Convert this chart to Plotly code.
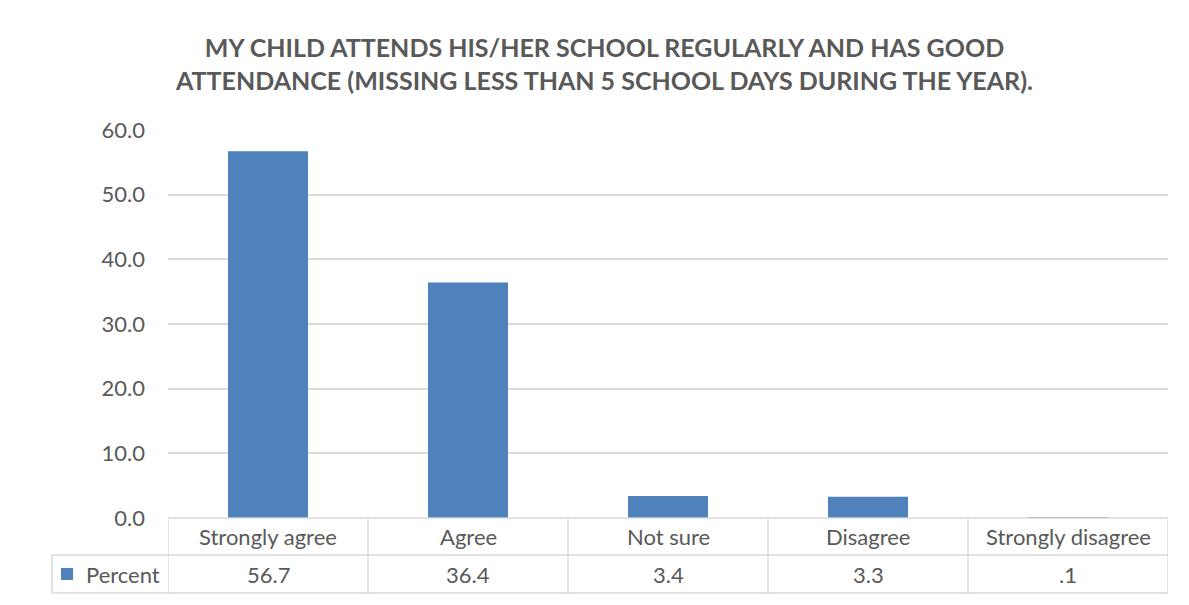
import plotly.graph_objects as go

categories = ["Strongly agree", "Agree", "Not sure", "Disagree", "Strongly disagree"]
values = [56.7, 36.4, 3.4, 3.3, 0.1]
series_name = "Percent"
tick_vals = [0, 10, 20, 30, 40, 50, 60]
title_lines = ["MY CHILD ATTENDS HIS/HER SCHOOL REGULARLY AND HAS GOOD",
               "ATTENDANCE (MISSING LESS THAN 5 SCHOOL DAYS DURING THE YEAR)."]

W, H = 1189, 605
OFF = 8  # page offset of the plot inside the browser window
PW, PH = 1000, 388
L, T = 168 - OFF, 130 - OFF
R, B = W - L - PW, H - T - PH

TEXT = "#595959"
GRID = "#d9d9d9"
BAR = "#4f81bd"
FONT = "Lato"


def px_x(p):
    return (p - OFF - L) / PW


def px_y(p):
    return (T + PH - (p - OFF)) / PH


def fmt(v):
    s = f"{v:.1f}"
    return s[1:] if s.startswith("0.") else s


fig = go.Figure(go.Bar(x=list(range(len(categories))), y=values, name=series_name,
                       marker=dict(color=BAR, line=dict(width=0)), width=0.4,
                       hoverinfo="skip"))

shapes = []
line = dict(color=GRID, width=1.5)
n = len(categories)
row1, row2, row3 = px_y(518), px_y(555), px_y(593)
shapes.append(dict(type="line", xref="x", yref="paper", x0=-0.5, x1=n - 0.5, y0=row1, y1=row1, line=line))
for yy in (row2, row3):
    shapes.append(dict(type="line", xref="paper", yref="paper", x0=px_x(52), x1=1, y0=yy, y1=yy, line=line))
for i in range(n + 1):
    shapes.append(dict(type="line", xref="x", yref="paper", x0=i - 0.5, x1=i - 0.5, y0=row1, y1=row3, line=line))
shapes.append(dict(type="line", xref="paper", yref="paper", x0=px_x(52), x1=px_x(52), y0=row2, y1=row3, line=line))
shapes.append(dict(type="rect", xref="paper", yref="paper", x0=px_x(61), x1=px_x(73), y0=px_y(580), y1=px_y(568),
                   fillcolor=BAR, line=dict(width=0)))
shapes.append(dict(type="line", xref="paper", yref="paper", x0=px_x(6), x1=px_x(1200), y0=px_y(5.5), y1=px_y(5.5),
                   line=dict(color=GRID, width=1.5)))
shapes.append(dict(type="line", xref="paper", yref="paper", x0=px_x(6.5), x1=px_x(6.5), y0=px_y(5), y1=px_y(620),
                   line=dict(color=GRID, width=1.5)))

annotations = []
for i, (c, v) in enumerate(zip(categories, values)):
    annotations.append(dict(x=i, xref="x", y=(row1 + row2) / 2, yref="paper", text=c, showarrow=False,
                            font=dict(family=FONT, size=22, color=TEXT), xanchor="center", yanchor="middle"))
    annotations.append(dict(x=i, xref="x", y=(row2 + row3) / 2, yref="paper", text=fmt(v), showarrow=False,
                            font=dict(family=FONT, size=22, color=TEXT), xanchor="center", yanchor="middle"))
annotations.append(dict(x=px_x(84), xref="paper", y=(row2 + row3) / 2, yref="paper", text=series_name,
                        showarrow=False, font=dict(family=FONT, size=22, color=TEXT), xanchor="left",
                        yanchor="middle"))
annotations.append(dict(x=px_x(604), xref="paper", y=px_y(64), yref="paper", text="<br>".join(title_lines),
                        showarrow=False, font=dict(family=FONT, size=25, color=TEXT, weight="bold"),
                        xanchor="center", yanchor="middle", align="center"))

fig.update_layout(
    width=W, height=H, margin=dict(l=L, r=R, t=T, b=B),
    paper_bgcolor="white", plot_bgcolor="white", showlegend=False,
    shapes=shapes, annotations=annotations,
    xaxis=dict(range=[-0.5, n - 0.5], showticklabels=False, showgrid=False, zeroline=False, showline=False,
               ticks=""),
    yaxis=dict(range=[0, 60], tickvals=tick_vals, ticktext=[f"{t:.1f}" for t in tick_vals],
               showgrid=True, gridcolor=GRID, gridwidth=1.5, zeroline=False, showline=False, ticks="",
               ticklabelstandoff=22,
               tickfont=dict(family=FONT, size=22, color=TEXT)),
)

fig.write_html("out.html")
